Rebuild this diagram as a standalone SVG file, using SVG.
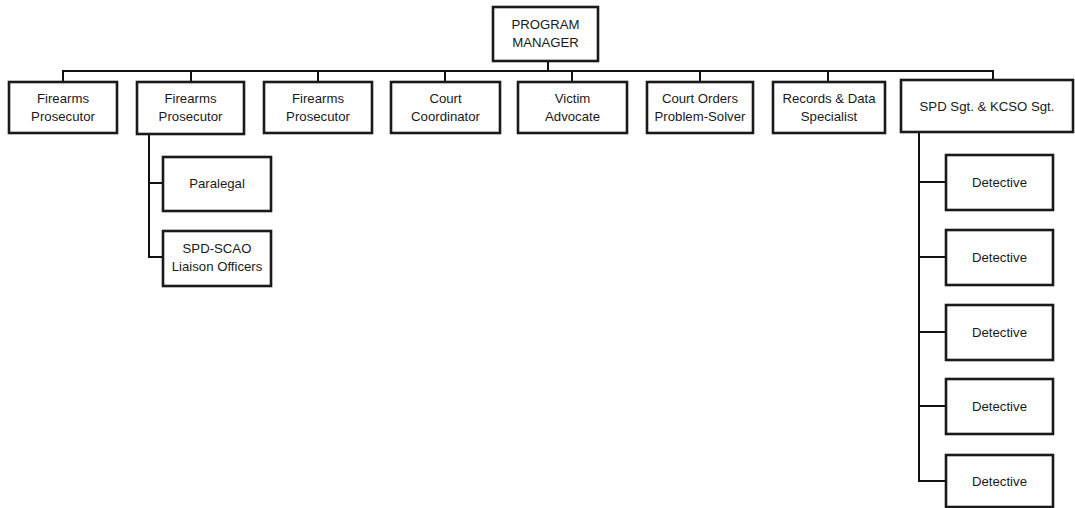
<svg xmlns="http://www.w3.org/2000/svg" width="1075" height="508" viewBox="0 0 1075 508">
<style>
.box{fill:#fff;stroke:#1a1a1a;stroke-width:2.6}
.ln{fill:none;stroke:#111;stroke-width:2}
text{font-family:"Liberation Sans","Noto Sans",sans-serif;font-size:13.2px;fill:#1a1a1a;text-anchor:middle}
</style>
<rect width="1075" height="508" fill="#fff"/>
<g id="connectors">
<path class="ln" d="M548 61V71M63 82V71H993V80"/>
<path class="ln" d="M191 71V82M318 71V82M445 71V82M572 71V82M700 71V82M828 71V82"/>
<path class="ln" d="M149 134V257H163M149 183H163"/>
<path class="ln" d="M919 132V481H946M919 182H946M919 257H946M919 332H946M919 406H946"/>
</g>
<g id="program-manager"><rect class="box" x="493" y="7" width="105" height="54"/><text x="545.5" y="29">PROGRAM</text><text x="545.5" y="47">MANAGER</text></g>
<g id="firearms-1"><rect class="box" x="9" y="82" width="108" height="51"/><text x="63" y="103">Firearms</text><text x="63" y="121">Prosecutor</text></g>
<g id="firearms-2"><rect class="box" x="137" y="82" width="107" height="52"/><text x="190.5" y="103">Firearms</text><text x="190.5" y="121">Prosecutor</text></g>
<g id="firearms-3"><rect class="box" x="264" y="82" width="108" height="51"/><text x="318" y="103">Firearms</text><text x="318" y="121">Prosecutor</text></g>
<g id="court-coordinator"><rect class="box" x="391" y="82" width="109" height="51"/><text x="445.5" y="103">Court</text><text x="445.5" y="121">Coordinator</text></g>
<g id="victim-advocate"><rect class="box" x="518" y="82" width="109" height="51"/><text x="572.5" y="103">Victim</text><text x="572.5" y="121">Advocate</text></g>
<g id="court-orders"><rect class="box" x="647" y="82" width="106" height="51"/><text x="700" y="103">Court Orders</text><text x="700" y="121">Problem-Solver</text></g>
<g id="records"><rect class="box" x="773" y="82" width="112" height="51"/><text x="829" y="103">Records &amp; Data</text><text x="829" y="121">Specialist</text></g>
<g id="sgt"><rect class="box" x="901" y="80" width="172" height="52"/><text x="987" y="111">SPD Sgt. &amp; KCSO Sgt.</text></g>
<g id="paralegal"><rect class="box" x="163" y="157" width="108" height="54"/><text x="217" y="188">Paralegal</text></g>
<g id="liaison"><rect class="box" x="163" y="231" width="108" height="55"/><text x="217" y="253">SPD-SCAO</text><text x="217" y="271">Liaison Officers</text></g>
<g id="detective-1"><rect class="box" x="946" y="155" width="107" height="55"/><text x="999.5" y="187">Detective</text></g>
<g id="detective-2"><rect class="box" x="946" y="230" width="107" height="55"/><text x="999.5" y="262">Detective</text></g>
<g id="detective-3"><rect class="box" x="946" y="305" width="107" height="55"/><text x="999.5" y="337">Detective</text></g>
<g id="detective-4"><rect class="box" x="946" y="379" width="107" height="55"/><text x="999.5" y="411">Detective</text></g>
<g id="detective-5"><rect class="box" x="946" y="455" width="107" height="52"/><text x="999.5" y="486">Detective</text></g>
</svg>
